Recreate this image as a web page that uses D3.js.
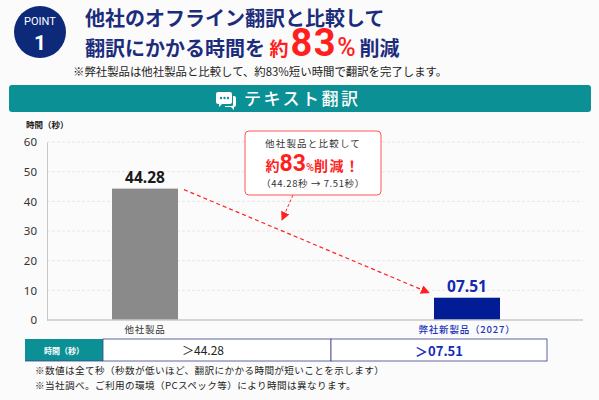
<!DOCTYPE html>
<html><head><meta charset="utf-8">
<script src="https://cdn.jsdelivr.net/npm/d3@7"></script>
<style>
html,body{margin:0;padding:0;background:#fbfbfb;}
svg{display:block;font-family:"Noto Sans CJK JP","Noto Sans",sans-serif;}
</style></head>
<body>
<svg id="c" width="599" height="400"></svg>
<script>
// ---- data ----
const categories = ["他社製品", "弊社新製品（2027）"];
const values = [44.28, 7.51];
const valueLabels = ["44.28", "07.51"];
const tableLabels = ["＞44.28", "＞07.51"];
const yTicks = [0, 10, 20, 30, 40, 50, 60];
const yDomain = [0, 60];

const svg = d3.select("#c");
const navy = "#1c2c7c", red = "#ff1f1f", teal = "#0b9096";

// ---- header ----
svg.append("circle").attr("cx", 40).attr("cy", 32).attr("r", 26).attr("fill", "#0d2a7a");
svg.append("text").attr("x", 40).attr("y", 25).attr("text-anchor", "middle").attr("fill", "#fff")
  .attr("font-size", 11).attr("font-family", "Roboto, sans-serif").text("POINT");
svg.append("text").attr("x", 40).attr("y", 50).attr("text-anchor", "middle").attr("fill", "#fff")
  .attr("font-size", 21).attr("font-weight", 700).attr("font-family", "Roboto, sans-serif").text("1");

svg.append("text").attr("x", 85).attr("y", 26).attr("fill", navy).attr("font-size", 20).attr("font-weight", 700)
  .text("他社のオフライン翻訳と比較して");
const t2 = svg.append("text").attr("x", 85).attr("y", 56).attr("fill", navy).attr("font-size", 20).attr("font-weight", 700);
t2.append("tspan").text("翻訳にかかる時間を ");
t2.append("tspan").attr("fill", red).attr("font-size", 19).text("約");
t2.append("tspan").attr("fill", red).attr("font-size", 38).attr("letter-spacing", 1.5).attr("font-family", "Roboto, sans-serif").attr("dx", 2).text("83");
t2.append("tspan").attr("fill", red).attr("font-size", 25).attr("font-weight", 500).attr("font-family", "Roboto, sans-serif").text("%");
t2.append("tspan").attr("dx", 4).text("削減");
svg.append("text").attr("x", 73).attr("y", 76).attr("fill", "#222").attr("font-size", 11.4)
  .text("※弊社製品は他社製品と比較して、約83%短い時間で翻訳を完了します。");

// ---- teal band ----
svg.append("rect").attr("x", 9).attr("y", 85).attr("width", 582).attr("height", 27).attr("rx", 3).attr("fill", teal);
const ic = svg.append("g").attr("transform", "translate(214,90)");
ic.append("path").attr("d", "M4,2 h12 a2,2 0 0 1 2,2 v8 a2,2 0 0 1 -2,2 h-8 l-3,3 v-3 h-1 a2,2 0 0 1 -2,-2 v-8 a2,2 0 0 1 2,-2z").attr("fill", "#fff");
ic.append("path").attr("d", "M19,6 h1 a2,2 0 0 1 2,2 v7 a2,2 0 0 1 -2,2 v3 l-3,-3 h-6 v-1 h7 a1,1 0 0 0 1,-1z").attr("fill", "#fff");
[7, 10.5, 14].forEach(cx => ic.append("circle").attr("cx", cx).attr("cy", 8).attr("r", 1.2).attr("fill", teal));
svg.append("text").attr("x", 244).attr("y", 105).attr("fill", "#fff").attr("font-size", 17).attr("font-weight", 500).attr("letter-spacing", 2.5)
  .text("テキスト翻訳");

// ---- chart ----
const y = d3.scaleLinear().domain(yDomain).range([320, 142]);
const x = d3.scaleBand().domain(categories).range([112, 500]).paddingInner(0.795).paddingOuter(0);
const xL = 47, xR = 583;

svg.append("text").attr("x", 26).attr("y", 128).attr("fill", "#222").attr("font-size", 8.5).attr("font-weight", 700).text("時間（秒）");

const grid = svg.append("g");
grid.selectAll("line").data(yTicks.filter(d => d > 0)).join("line")
  .attr("x1", xL).attr("x2", xR).attr("y1", d => y(d)).attr("y2", d => y(d))
  .attr("stroke", "#e2e2e2").attr("stroke-dasharray", "3,2").attr("stroke-width", 0.8);

const yAxis = svg.append("g").attr("transform", `translate(${xL},0)`)
  .call(d3.axisLeft(y).tickValues(yTicks).tickSize(0).tickPadding(10));
yAxis.select(".domain").attr("stroke", "#c8c8c8");
yAxis.selectAll("text").attr("font-size", 11.5).attr("fill", "#333").attr("font-family", "'Noto Sans', sans-serif");

const colors = ["#8a8a8a", "#021c96"];
svg.selectAll("rect.bar").data(values).join("rect").attr("class", "bar")
  .attr("x", (d, i) => x(categories[i])).attr("width", x.bandwidth())
  .attr("y", d => y(d)).attr("height", d => y(0) - y(d)).attr("fill", (d, i) => colors[i]);

svg.append("line").attr("x1", xL).attr("x2", xR).attr("y1", y(0)).attr("y2", y(0)).attr("stroke", "#c8c8c8").attr("stroke-width", 1.6);

const labelColors = ["#1a1a1a", "#1428b0"];
svg.selectAll("text.vl").data(values).join("text").attr("class", "vl")
  .attr("x", (d, i) => x(categories[i]) + x.bandwidth() / 2).attr("y", d => y(d) - 6)
  .attr("text-anchor", "middle").attr("font-size", 15.5).attr("font-weight", 700)
  .attr("font-family", "'Noto Sans', sans-serif")
  .attr("fill", (d, i) => labelColors[i]).text((d, i) => valueLabels[i]);

const catColors = ["#333", "#2234b8"];
svg.selectAll("text.cat").data(categories).join("text").attr("class", "cat")
  .attr("x", d => x(d) + x.bandwidth() / 2).attr("y", 333).attr("text-anchor", "middle")
  .attr("font-size", 9.5).attr("letter-spacing", 0.8).attr("fill", (d, i) => catColors[i])
  .attr("font-weight", (d, i) => i ? 500 : 400).text(d => d);

// arrow marker
const defs = svg.append("defs");
defs.append("marker").attr("id", "ah").attr("viewBox", "0 0 10 10").attr("refX", 9).attr("refY", 5)
  .attr("markerWidth", 9).attr("markerHeight", 9).attr("orient", "auto").attr("markerUnits", "userSpaceOnUse")
  .append("path").attr("d", "M0,0 L10,5 L0,10z").attr("fill", "#ff2020");

svg.append("line")
  .attr("x1", x(categories[0]) + x.bandwidth() + 6).attr("y1", y(values[0]) + 1)
  .attr("x2", x(categories[1]) - 5).attr("y2", y(values[1]) - 5)
  .attr("stroke", "#ff2020").attr("stroke-width", 1.2).attr("stroke-dasharray", "4,3").attr("marker-end", "url(#ah)");

// callout
svg.append("line").attr("x1", 293).attr("y1", 195).attr("x2", 282).attr("y2", 220)
  .attr("stroke", "#ff2020").attr("stroke-width", 1).attr("stroke-dasharray", "3,2").attr("marker-end", "url(#ah)");
svg.append("rect").attr("x", 245).attr("y", 131).attr("width", 136).attr("height", 64).attr("rx", 4)
  .attr("fill", "#fff").attr("stroke", "#ff5656").attr("stroke-width", 1);
svg.append("text").attr("x", 313).attr("y", 147).attr("text-anchor", "middle").attr("font-size", 9.5)
  .attr("letter-spacing", 1.2).attr("fill", "#333").text("他社製品と比較して");
const c2 = svg.append("text").attr("x", 313).attr("y", 171).attr("text-anchor", "middle").attr("fill", red).attr("font-weight", 700);
c2.append("tspan").attr("font-size", 14).text("約");
c2.append("tspan").attr("font-size", 23).attr("font-family", "Roboto, sans-serif").text("83");
c2.append("tspan").attr("font-size", 11).attr("font-weight", 500).attr("font-family", "Roboto, sans-serif").text("%");
c2.append("tspan").attr("font-size", 14).attr("letter-spacing", 1.5).text("削減！");
svg.append("text").attr("x", 313).attr("y", 187).attr("text-anchor", "middle").attr("font-size", 9.5)
  .attr("letter-spacing", 0.6).attr("fill", "#333").text("（44.28秒 → 7.51秒）");

// ---- table ----
const tb = svg.append("g");
tb.append("rect").attr("x", 25).attr("y", 339).attr("width", 78).attr("height", 22).attr("fill", teal);
tb.append("text").attr("x", 64).attr("y", 353.5).attr("text-anchor", "middle").attr("fill", "#fff")
  .attr("font-size", 8).attr("font-weight", 700).text("時間（秒）");
tb.append("rect").attr("x", 103).attr("y", 339).attr("width", 228).attr("height", 22).attr("fill", "#fff").attr("stroke", "#3a3f8f").attr("stroke-width", 0.8);
tb.append("rect").attr("x", 331).attr("y", 339).attr("width", 216).attr("height", 22).attr("fill", "#fff").attr("stroke", "#3a3f8f").attr("stroke-width", 0.8);
tb.append("line").attr("x1", 25).attr("x2", 103).attr("y1", 361).attr("y2", 361).attr("stroke", "#3a3f8f").attr("stroke-width", 0.8);
tb.append("text").attr("x", 203).attr("y", 355).attr("text-anchor", "middle").attr("font-size", 12).attr("fill", "#222").text(tableLabels[0]);
tb.append("text").attr("x", 439).attr("y", 355.5).attr("text-anchor", "middle").attr("font-size", 13).attr("font-weight", 700).attr("fill", "#1428c0").text(tableLabels[1]);

svg.append("text").attr("x", 35).attr("y", 374).attr("font-size", 9.6).attr("fill", "#222").attr("letter-spacing", 0.4)
  .text("※数値は全て秒（秒数が低いほど、翻訳にかかる時間が短いことを示します）");
svg.append("text").attr("x", 35).attr("y", 389).attr("font-size", 9.6).attr("fill", "#222").attr("letter-spacing", 0.4)
  .text("※当社調べ。ご利用の環境（PCスペック等）により時間は異なります。");
</script>
</body></html>
